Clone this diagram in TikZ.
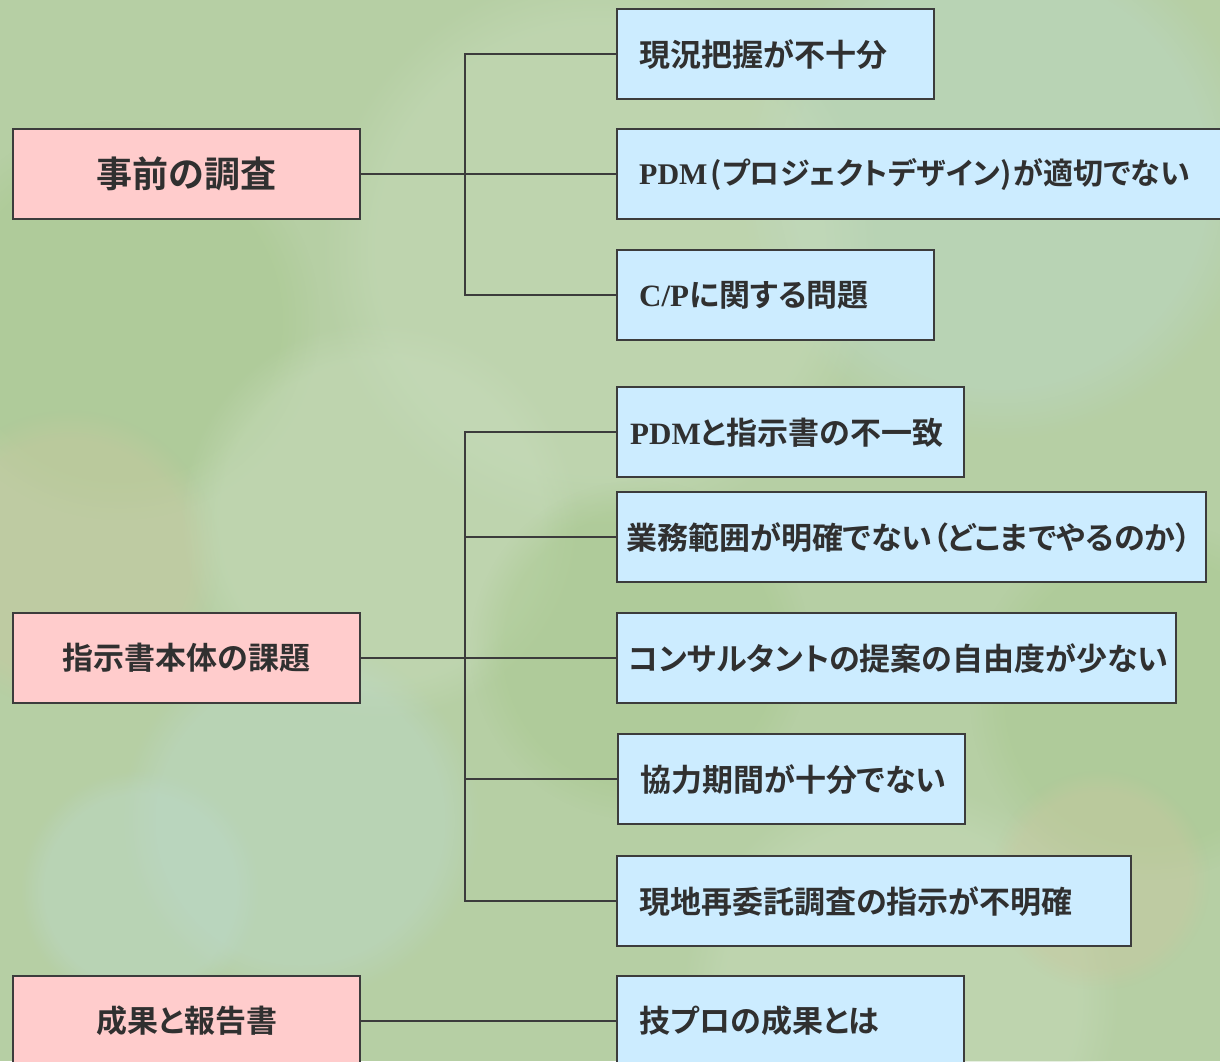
\documentclass[tikz,border=0pt]{standalone}
\usepackage{fontspec}
\usetikzlibrary{fadings}
\newfontfamily\jp{Noto Sans CJK JP}[BoldFont={* Bold},RawFeature=+palt]
\newfontfamily\lat{Liberation Serif}
\newcommand{\la}[1]{{\lat\bfseries #1}}
\definecolor{bgbase}{RGB}{182,207,164}
\definecolor{bglight}{RGB}{200,220,188}
\definecolor{bgblue}{RGB}{188,216,200}
\definecolor{bgyel}{RGB}{200,200,160}
\definecolor{bggreen}{RGB}{168,200,142}
\definecolor{pinkbox}{RGB}{255,204,204}
\definecolor{bluebox}{RGB}{204,236,255}
\definecolor{edge}{RGB}{60,60,60}
\definecolor{txt}{RGB}{48,48,48}
\tikzset{
  x=1pt,y=-1pt,
  box/.style={draw=edge,line width=2.4pt,rectangle,minimum height=90pt,
    anchor=north west,text=txt,font=\jp\bfseries\fontsize{31}{36}\selectfont,
    inner ysep=0pt},
  topic/.style={box,fill=pinkbox,align=center,inner xsep=0pt},
  issue/.style={box,fill=bluebox,align=left},
  link/.style={draw=edge,line width=2.4pt},
  blob/.style={path fading=circle with fuzzy edge 20 percent,fill opacity=0.45}
}
\begin{document}
\begin{tikzpicture}
\useasboundingbox (0,0) rectangle (1220,1061);
\clip (0,0) rectangle (1220,1061);
% background
\fill[bgbase] (0,0) rectangle (1220,1061);
\fill[bgblue,blob] (1000,180) circle (260);
\fill[bglight,blob] (600,250) circle (280);
\fill[bggreen,blob] (120,320) circle (200);
\fill[bgyel,blob] (70,560) circle (150);
\fill[bglight,blob] (380,520) circle (200);
\fill[bgblue,blob] (300,820) circle (180);
\fill[bgblue,blob] (140,890) circle (120);
\fill[bggreen,blob] (640,650) circle (170);
\fill[bglight,blob] (900,1000) circle (220);
\fill[bggreen,blob] (1150,700) circle (180);
\fill[bgyel,blob] (1100,880) circle (110);
% left topics
\node[topic,minimum width=347pt,text width=347pt,font=\jp\bfseries\fontsize{36}{42}\selectfont] (L1) at (12,128) {事前の調査};
\node[topic,minimum width=347pt,text width=347pt] (L2) at (12,612) {指示書本体の課題};
\node[topic,minimum width=347pt,text width=347pt] (L3) at (12,975) {成果と報告書};
% right issues
\node[issue,text width=273pt,inner xsep=22pt] (R1) at (616,8) {現況把握が不十分};
\node[issue,text width=576pt,inner xsep=22pt,font=\jp\bfseries\fontsize{30}{36}\selectfont] (R2) at (616,128) {\la{PDM}\kern3pt(プロジェクトデザイン)\kern2ptが適切でない};
\node[issue,text width=273pt,inner xsep=22pt] (R3) at (616,249) {\la{C/P}に関する問題};
\node[issue,text width=321pt,inner xsep=13pt] (R4) at (616,386) {\la{PDM}と指示書の不一致};
\node[issue,text width=571pt,inner xsep=9pt] (R5) at (616,491) {業務範囲が明確でない（どこまでやるのか）};
\node[issue,text width=537pt,inner xsep=11pt] (R6) at (616,612) {コンサルタントの提案の自由度が少ない};
\node[issue,text width=303pt,inner xsep=22pt] (R7) at (617,733) {協力期間が十分でない};
\node[issue,text width=470pt,inner xsep=22pt] (R8) at (616,855) {現地再委託調査の指示が不明確};
\node[issue,text width=303pt,inner xsep=22pt] (R9) at (616,975) {技プロの成果とは};
% connectors
\coordinate (t1) at (465,173);
\coordinate (t2) at (465,657);
\draw[link] (L1.east) -- (R2.west);
\draw[link] (R1.west) -| (t1) |- (R3.west);
\draw[link] (L2.east) -- (R6.west);
\draw[link] (R4.west) -| (t2) |- (R8.west);
\draw[link] (R5.west) -- (R5.west -| t2);
\draw[link] (R7.west) -- (R7.west -| t2);
\draw[link] (L3.east) -- (R9.west);
\end{tikzpicture}
\end{document}
